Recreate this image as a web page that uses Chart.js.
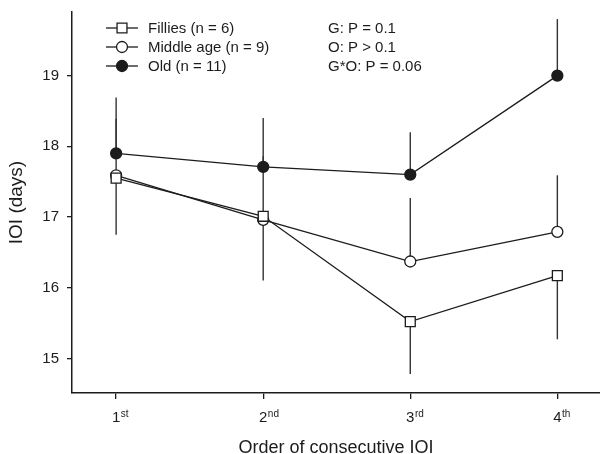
<!DOCTYPE html>
<html>
<head>
<meta charset="utf-8">
<script src="https://cdn.jsdelivr.net/npm/chart.js@4"></script>
<style>
  html, body { margin: 0; padding: 0; background: #fff; }
  #wrap { width: 600px; height: 454px; position: relative; }
</style>
</head>
<body>
<div id="wrap"><canvas id="c"></canvas></div>
<script>
// ── Data ──
const xTicks = [1, 2, 3, 4];
const xTickSup = ['st', 'nd', 'rd', 'th'];
const yTicks = [15, 16, 17, 18, 19];

const fillies = [17.55, 17.01, 15.52, 16.17];
const filliesErr = [0.80, 0.91, 0.74, 0.90];   // drawn downwards
const middle = [17.59, 16.96, 16.37, 16.79];
const middleErr = [0.80, 0.90, 0.90, 0.80];    // drawn upwards
const old = [17.90, 17.71, 17.60, 19.00];
const oldErr = [0.79, 0.69, 0.60, 0.80];       // drawn upwards

const legendLabels = ['Fillies (n = 6)', 'Middle age (n = 9)', 'Old (n = 11)'];
const statsLines = ['G: P = 0.1', 'O: P > 0.1', 'G*O: P = 0.06'];

const INK = '#1c1c1c';
const FONT = '"Liberation Sans", Arial, sans-serif';

const pts = arr => arr.map((v, i) => ({ x: xTicks[i], y: v }));

const series = [
    { label: legendLabels[0], data: fillies, err: filliesErr, dir: -1, style: 'rect', radius: 7, fill: '#fff' },
    { label: legendLabels[1], data: middle, err: middleErr, dir: 1, style: 'circle', radius: 5.5, fill: '#fff' },
    { label: legendLabels[2], data: old, err: oldErr, dir: 1, style: 'circle', radius: 5.5, fill: INK },
];

// ── Error bars (one-sided), under the markers ──
const errorBars = {
    id: 'errorBars',
    beforeDatasetsDraw(chart) {
        const { ctx, scales: { x, y } } = chart;
        ctx.save();
        ctx.strokeStyle = '#333';
        ctx.lineWidth = 1.4;
        series.forEach(s => {
            s.data.forEach((v, i) => {
                const px = x.getPixelForValue(xTicks[i]);
                ctx.beginPath();
                ctx.moveTo(px, y.getPixelForValue(v));
                ctx.lineTo(px, y.getPixelForValue(v + s.dir * s.err[i]));
                ctx.stroke();
            });
        });
        ctx.restore();
    }
};

// ── Legend, stats text and tick superscripts ──
const overlay = {
    id: 'overlay',
    afterDraw(chart) {
        const { ctx, scales: { x } } = chart;
        ctx.save();
        ctx.fillStyle = INK;
        ctx.font = `15px ${FONT}`;
        ctx.textBaseline = 'middle';
        const rows = [28, 47, 66];
        series.forEach((s, i) => {
            const yy = rows[i];
            ctx.strokeStyle = INK;
            ctx.lineWidth = 1.3;
            ctx.beginPath(); ctx.moveTo(106, yy); ctx.lineTo(138, yy); ctx.stroke();
            ctx.fillStyle = s.fill;
            Chart.helpers.drawPoint(ctx, { pointStyle: s.style, radius: s.radius, rotation: 0, borderWidth: 1.3 }, 122, yy);
            ctx.fillStyle = INK;
            ctx.fillText(s.label, 148, yy + 1);
            ctx.fillText(statsLines[i], 328, yy + 1);
        });

        // ordinal suffixes on the x ticks
        ctx.textBaseline = 'alphabetic';
        xTicks.forEach((v, i) => {
            const px = x.getPixelForValue(v);
            ctx.font = `15px ${FONT}`;
            const w = ctx.measureText(String(v)).width;
            ctx.font = `10px ${FONT}`;
            ctx.fillText(xTickSup[i], px + w / 2 + 0.5, 417);
        });
        ctx.restore();
    }
};

new Chart(document.getElementById('c'), {
    type: 'line',
    data: {
        datasets: series.map(s => ({
            label: s.label,
            data: pts(s.data),
            borderColor: INK,
            borderWidth: 1.3,
            pointStyle: s.style,
            pointRadius: s.radius,
            pointBackgroundColor: s.fill,
            pointBorderColor: INK,
            pointBorderWidth: 1.3,
            tension: 0,
            fill: false,
            clip: false,
        }))
    },
    options: {
        responsive: true,
        maintainAspectRatio: false,
        animation: false,
        layout: { autoPadding: false, padding: { top: 12, right: 0, left: 0, bottom: 0 } },
        plugins: { legend: { display: false }, tooltip: { enabled: false } },
        scales: {
            x: {
                type: 'linear', min: 0.7, max: 4.29,
                afterBuildTicks: s => { s.ticks = xTicks.map(v => ({ value: v })); },
                afterFit: s => { s.height = 61; s.paddingLeft = 0; s.paddingRight = 0; },
                ticks: { color: INK, font: { family: FONT, size: 15 }, padding: 10, callback: v => String(v) },
                grid: { drawOnChartArea: false, drawTicks: true, tickLength: 6, color: INK, lineWidth: 1.3 },
                border: { display: true, color: INK, width: 1.5 },
                title: { display: true, text: 'Order of consecutive IOI', color: INK,
                    font: { family: FONT, size: 18, lineHeight: 1 }, padding: { top: 0, bottom: -3 } },
            },
            y: {
                type: 'linear', min: 14.51, max: 19.9,
                afterBuildTicks: s => { s.ticks = yTicks.map(v => ({ value: v })); },
                afterFit: s => { s.width = 72; s.paddingTop = 0; s.paddingBottom = 0; },
                ticks: { color: INK, font: { family: FONT, size: 15 }, padding: 8 },
                grid: { drawOnChartArea: false, drawTicks: true, tickLength: 5, color: INK, lineWidth: 1.3 },
                border: { display: true, color: INK, width: 1.5 },
                title: { display: true, text: 'IOI (days)', color: INK,
                    font: { family: FONT, size: 19, lineHeight: 1 }, padding: { top: 7, bottom: 0 } },
            }
        }
    },
    plugins: [errorBars, overlay]
});
</script>
</body>
</html>
